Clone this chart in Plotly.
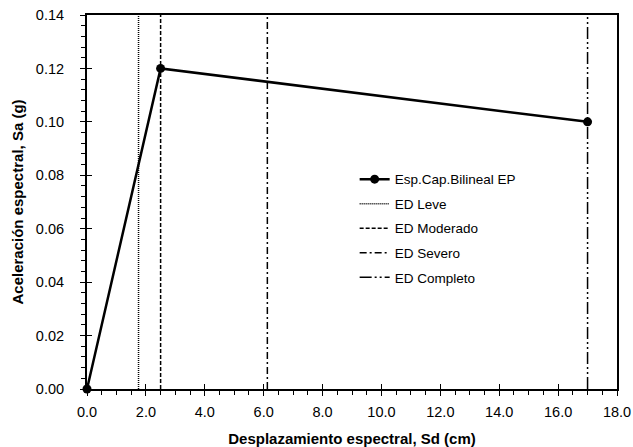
import plotly.graph_objects as go

# Curva de capacidad bilineal (Sd en cm, Sa en g)
sd_bilineal = [0.0, 2.5, 17.0]
sa_bilineal = [0.0, 0.12, 0.10]

# Umbrales de estados de daño (Sd, cm)
estados = ["ED Leve", "ED Moderado", "ED Severo", "ED Completo"]
sd_estados = [1.75, 2.5, 6.125, 17.0]
estilos = ["1px,1px", "4px,2px", "7px,3px,2px,3px", "12px,3px,2px,3px,2px,3px"]

sa_max = 0.14
sd_max = 18.0

font_family = "Liberation Sans, Arial, sans-serif"

fig = go.Figure()

fig.add_trace(go.Scatter(
    x=sd_bilineal, y=sa_bilineal, mode="lines+markers",
    name="Esp.Cap.Bilineal EP", legendgroup="g0",
    line=dict(color="black", width=2.5),
    marker=dict(color="black", size=9),
    cliponaxis=False,
))

for i, (nombre, sd, estilo) in enumerate(zip(estados, sd_estados, estilos)):
    fig.add_trace(go.Scatter(
        x=[sd, sd], y=[0, sa_max], mode="lines", name=nombre,
        legendgroup=f"g{i + 1}",
        line=dict(color="black", width=1.5, dash=estilo),
    ))

# Eje auxiliar para que las marcas principales crucen el eje
fig.add_trace(go.Scatter(x=[0], y=[0], xaxis="x2", yaxis="y2",
                         mode="markers", marker=dict(opacity=0),
                         showlegend=False, hoverinfo="skip"))

axis_common = dict(
    showgrid=False, zeroline=False, showline=True, linecolor="black",
    linewidth=2, mirror=True, ticks="outside", ticklen=5, tickwidth=1,
    tickcolor="black", automargin=False,
    tickfont=dict(size=14.5, color="black", family=font_family),
)

fig.update_layout(
    width=633, height=447,
    margin=dict(l=87, r=16, t=15, b=58),
    paper_bgcolor="white", plot_bgcolor="white",
    font=dict(family=font_family, color="black"),
    xaxis=dict(
        range=[0, sd_max], dtick=2, tickformat=".1f",
        minor=dict(dtick=0.5, ticks="outside", ticklen=4, tickcolor="black"),
        title=dict(text="<b>Desplazamiento espectral, Sd (cm)</b>",
                   font=dict(size=15), standoff=17),
        ticklabelstandoff=4,
        **axis_common,
    ),
    yaxis=dict(
        range=[0, sa_max], dtick=0.02, tickformat=".2f",
        minor=dict(dtick=0.004, ticks="outside", ticklen=4, tickcolor="black"),
        title=dict(text="<b>Aceleración espectral, Sa (g)</b>",
                   font=dict(size=15), standoff=9),
        ticklabelstandoff=13,
        **axis_common,
    ),
    xaxis2=dict(overlaying="x", range=[0, sd_max], dtick=2, ticks="inside",
                ticklen=5, tickcolor="black", showticklabels=False,
                showgrid=False, zeroline=False, side="bottom"),
    yaxis2=dict(overlaying="y", range=[0, sa_max], dtick=0.02, ticks="inside",
                ticklen=5, tickcolor="black", showticklabels=False,
                showgrid=False, zeroline=False, side="left"),
    legend=dict(x=0.505, y=0.602, xanchor="left", yanchor="top",
                bgcolor="rgba(0,0,0,0)", font=dict(size=13.5),
                traceorder="grouped", tracegroupgap=4,
                itemwidth=30),
    showlegend=True,
)

fig.write_html("out.html")
